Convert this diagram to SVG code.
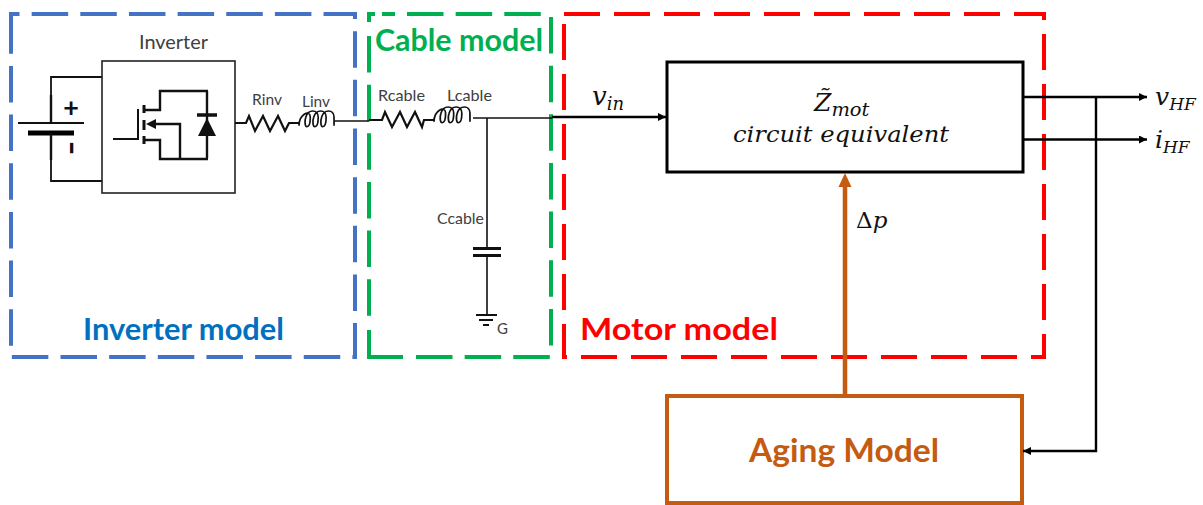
<svg xmlns="http://www.w3.org/2000/svg" xmlns:xlink="http://www.w3.org/1999/xlink" width="1203" height="505" viewBox="0 0 1203 505">
<style>
text{font-family:"Lato","Open Sans","Liberation Sans",sans-serif;fill:#404040}
.frame{fill:none;stroke-width:4}
.d1{stroke-dasharray:36.5 12.15}
.d2{stroke-dasharray:36 14}
.title{font-weight:700;font-size:30px}
.small{font-size:15px}
.w{fill:none;stroke:#111;stroke-width:1.8}
.w2{fill:none;stroke:#111;stroke-width:2.4}
.m{font-family:"DejaVu Serif","Liberation Serif",serif;font-style:italic;fill:#111}
.blk{fill:none;stroke:#000;stroke-width:2.4}
</style>
<defs>
<marker id="ab" markerUnits="userSpaceOnUse" markerWidth="9" markerHeight="9" refX="8" refY="4" orient="auto"><path d="M0,0L8,4L0,8Z" fill="#000"/></marker>
<path id="coil" d="M0,13 C0,2 10,-3 10,5 C10,10 9,14 7,14 C5,14 5,8 6,5 C8,-3 17,-3 17,5 C17,10 16,14 14,14 C12,14 12,8 13,5 C15,-3 24,-3 24,5 C24,10 23,14 21,14 C19,14 19,8 20,5 C22,-3 31,-3 31,5 V13" fill="none" stroke="#111" stroke-width="1.5"/>
</defs>
<rect width="1203" height="505" fill="#fff"/>

<g id="inverter-model">
<path class="frame d1" stroke="#4472C4" d="M11,42V14H355V357H11V42"/>
<text class="title" x="83" y="340" style="fill:#0070C0" textLength="201" lengthAdjust="spacingAndGlyphs">Inverter model</text>
</g>
<g id="cable-model">
<path class="frame d1" stroke="#00B050" d="M369,36V328M416,357H550M551,17V346M407,14H545"/>
<path class="frame" stroke="#00B050" d="M369,22V14H375M382,14H395M369,330V357H403"/>
<text class="title" x="375" y="51" style="fill:#00B050" textLength="168" lengthAdjust="spacingAndGlyphs">Cable model</text>
</g>
<g id="motor-model">
<path class="frame d2" stroke="#FF0000" d="M564,14H1044V357H564V14"/>
<text class="title" x="580" y="340" style="fill:#FF0000" textLength="198" lengthAdjust="spacingAndGlyphs">Motor model</text>
</g>

<g id="battery">
<path class="w" d="M102,77H51V123M51,133V181H102"/>
<path class="w" d="M18,123H84"/>
<path d="M28,133H74" fill="none" stroke="#000" stroke-width="5"/>
<path class="w2" d="M51,95V123M51,133V160"/>
<text x="71" y="117" text-anchor="middle" style="font-size:27px;font-weight:700;fill:#111">+</text>
<text transform="translate(71,148) rotate(90)" text-anchor="middle" dy="12" style="font-size:42px;font-weight:400;fill:#111">-</text>
</g>

<g id="inverter">
<rect x="102" y="61" width="133" height="132" fill="#fff" stroke="#222" stroke-width="1.6"/>
<text x="139" y="49" style="font-size:19px" textLength="69" lengthAdjust="spacingAndGlyphs">Inverter</text>
<path class="w" d="M113,139H138V109" style="stroke-width:2"/>
<path d="M144,105V113M144,120V130M144,136V144" fill="none" stroke="#111" stroke-width="3"/>
<path class="w2" d="M144,110H160V91H208M144,140H160V159H208M153,124H180V159"/>
<path d="M146,124L156,119V129Z" fill="#111"/>
<path class="w2" d="M207,91V158"/>
<path d="M197,115H217" stroke="#111" stroke-width="3.500"/>
<path d="M207,118L198,136H216Z" fill="#111"/>
</g>

<g id="rinv">
<path class="w" style="stroke-width:2.2" d="M235,123H246L249,116L255,131L263,116L270,131L278,116L285,131L289,123H299"/>
<text class="small" x="252" y="105" textLength="30" lengthAdjust="spacingAndGlyphs">Rinv</text>
</g>
<g id="linv">
<use xlink:href="#coil" href="#coil" transform="translate(299,112) scale(1.13,1.05)"/>
<text class="small" x="302" y="107" textLength="28" lengthAdjust="spacingAndGlyphs">Linv</text>
</g>
<g id="rcable">
<path class="w" style="stroke-width:2.2" d="M369,120H382L385,112L392,127L400,112L407,127L415,112L422,127L424,120H434"/>
<text class="small" x="378" y="101" textLength="47" lengthAdjust="spacingAndGlyphs">Rcable</text>
</g>
<g id="lcable">
<use xlink:href="#coil" href="#coil" transform="translate(434,108) scale(1.16,1.05)"/>
<text class="small" x="447" y="101" textLength="45" lengthAdjust="spacingAndGlyphs">Lcable</text>
</g>
<g id="ccable">
<path d="M473,248.500H501M473,255.500H501" stroke="#111" stroke-width="3"/>
<text class="small" x="437" y="224" textLength="47" lengthAdjust="spacingAndGlyphs">Ccable</text>
</g>
<g id="ground">
<path d="M476,315H497M479,320H493M483,325H489" stroke="#111" stroke-width="1.8"/>
<text class="small" x="497" y="334">G</text>
</g>

<g id="motor-block">
<rect x="667" y="62" width="356" height="110" fill="none" stroke="#000" stroke-width="3"/>
<text class="m" x="814" y="111" style="font-size:25px">Z&#771;<tspan dy="5" style="font-size:19px" textLength="38" lengthAdjust="spacingAndGlyphs">mot</tspan></text>
<text class="m" x="733" y="142" style="font-size:23px" textLength="216" lengthAdjust="spacingAndGlyphs">circuit equivalent</text>
</g>
<g id="aging-model">
<rect x="667" y="396" width="355" height="107" fill="#fff" stroke="#C55A11" stroke-width="4"/>
<text x="749" y="462" style="font-size:32px;font-weight:700;fill:#C55A11" textLength="190" lengthAdjust="spacingAndGlyphs">Aging Model</text>
</g>

<g id="connectors">
<path class="w" d="M334,121H369" style="stroke-width:1.3"/>
<path class="w" d="M473,118H552" style="stroke-width:1.4"/>
<path class="blk" d="M552,117H666" marker-end="url(#ab)"/>
<path class="w" d="M487,118V248M487,256V315" style="stroke-width:1.6"/>
<path class="blk" d="M1023,97H1147" marker-end="url(#ab)"/>
<path class="blk" d="M1023,139.500H1147" marker-end="url(#ab)"/>
<path class="blk" d="M1096,97V451H1023" marker-end="url(#ab)"/>
<path d="M845,396V186" fill="none" stroke="#C55A11" stroke-width="4.500"/>
<path d="M845,173L851.500,187H838.500Z" fill="#C55A11"/>
</g>

<g id="labels">
<text class="m" x="592" y="105" style="font-size:26px">v<tspan dy="5" style="font-size:18px">in</tspan></text>
<text class="m" x="856" y="228" style="font-size:23px"><tspan style="font-style:normal">Δ</tspan>p</text>
<text class="m" x="1155" y="105" style="font-size:25px">v<tspan dy="5" style="font-size:17px">HF</tspan></text>
<text class="m" x="1155" y="148" style="font-size:25px">i<tspan dy="5" style="font-size:17px">HF</tspan></text>
</g>
</svg>
